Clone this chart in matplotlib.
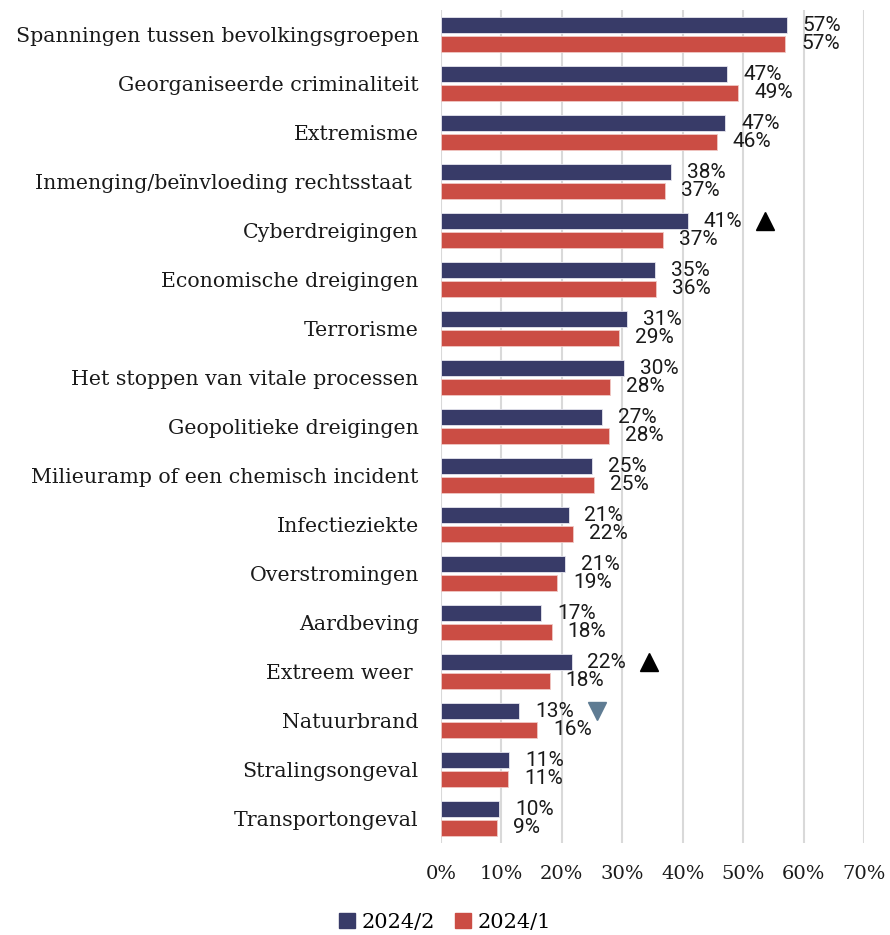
import matplotlib
matplotlib.use("Agg")
import matplotlib.pyplot as plt
import matplotlib.transforms as mtransforms
import numpy as np
from matplotlib.patches import Patch

categories = [
    "Spanningen tussen bevolkingsgroepen",
    "Georganiseerde criminaliteit",
    "Extremisme",
    "Inmenging/beïnvloeding rechtsstaat ",
    "Cyberdreigingen",
    "Economische dreigingen",
    "Terrorisme",
    "Het stoppen van vitale processen",
    "Geopolitieke dreigingen",
    "Milieuramp of een chemisch incident",
    "Infectieziekte",
    "Overstromingen",
    "Aardbeving",
    "Extreem weer ",
    "Natuurbrand",
    "Stralingsongeval",
    "Transportongeval",
]
series_2024_2 = [57.2, 47.35, 47.07, 38.1, 40.8, 35.4, 30.85, 30.3, 26.6, 25.0,
                 21.1, 20.6, 16.6, 21.6, 12.9, 11.3, 9.65]
series_2024_1 = [57.0, 49.2, 45.6, 37.1, 36.7, 35.65, 29.4, 27.9, 27.8, 25.4,
                 21.9, 19.2, 18.3, 18.0, 15.9, 11.1, 9.3]
# significant change markers (relative to 2024/2 bar)
changes = {"Cyberdreigingen": "up", "Extreem weer ": "up", "Natuurbrand": "down"}
xticks = [0, 10, 20, 30, 40, 50, 60, 70]
legend_labels = ["2024/2", "2024/1"]

C_NAVY = "#383B68"
C_RED = "#CB4D44"
C_GRID = "#D9D9D9"

fig = plt.figure(figsize=(8.9, 9.35), dpi=100)
ax = fig.add_axes([441 / 890, 92 / 935, 423 / 890, 833 / 935])

y = np.arange(len(categories))
h = 0.335
off = 0.19
ax.barh(y - off, series_2024_2, height=h, color=C_NAVY, edgecolor="#E6E6EE", linewidth=0.6, zorder=3)
ax.barh(y + off, series_2024_1, height=h, color=C_RED, edgecolor="#F0C8C4", linewidth=0.6, zorder=3)

lab_font = dict(family="Roboto", fontsize=15, color="#1a1a1a")
marker_shift = mtransforms.ScaledTranslation(56 / 72, 0, fig.dpi_scale_trans)
for i, (a, b) in enumerate(zip(series_2024_2, series_2024_1)):
    ax.annotate(f"{a:.0f}%", xy=(a, i - off), xytext=(11.5, 0), textcoords="offset points",
                ha="left", va="center", **lab_font)
    ax.annotate(f"{b:.0f}%", xy=(b, i + off), xytext=(11.5, 0), textcoords="offset points",
                ha="left", va="center", **lab_font)
    cat = categories[i]
    if cat in changes:
        if changes[cat] == "up":
            mk, col = "^", "black"
        else:
            mk, col = "v", "#5F7C93"
        ax.plot([a], [i - off], marker=mk, color=col, markersize=13, linestyle="none",
                transform=ax.transData + marker_shift, clip_on=False, zorder=4)

ax.set_xlim(0, 70)
ax.set_ylim(len(categories) - 0.5, -0.5)
ax.set_xticks(xticks)
ax.set_xticklabels([f"{t}%" for t in xticks], family="DejaVu Serif", fontsize=14, color="#1a1a1a")
ax.set_yticks(y)
ax.set_yticklabels(categories, family="DejaVu Serif", fontsize=14.8, color="#1a1a1a")
ax.tick_params(axis="both", length=0)
ax.tick_params(axis="y", pad=16)
ax.tick_params(axis="x", pad=16)
ax.grid(axis="x", color=C_GRID, linewidth=1.5, zorder=0)
ax.set_axisbelow(True)
for s in ax.spines.values():
    s.set_visible(False)

handles = [Patch(color=C_NAVY), Patch(color=C_RED)]
fig.legend(handles, legend_labels, loc="center", bbox_to_anchor=(445 / 890, 1 - 922 / 935),
           ncol=2, frameon=False, prop=dict(family="DejaVu Serif", size=15),
           handlelength=0.75, handleheight=0.75, handletextpad=0.3, columnspacing=1.0)

fig.savefig("out.png", dpi=100)
